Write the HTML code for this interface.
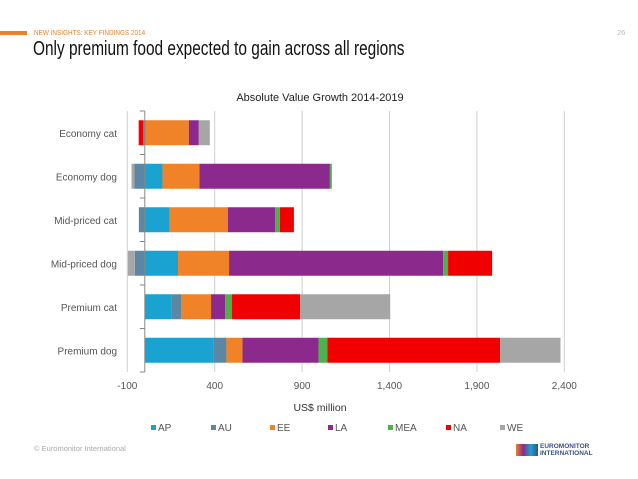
<!DOCTYPE html>
<html><head><meta charset="utf-8"><style>
body{margin:0;width:638px;height:479px;background:#fff;font-family:"Liberation Sans",Arial,sans-serif;overflow:hidden;position:relative}
.a{position:absolute;white-space:nowrap}
</style></head><body>
<div class="a" style="left:0;top:31px;width:27px;height:4px;background:#e8822e"></div>
<div class="a" style="left:34px;top:28px;font-size:7.5px;color:#e8822e;transform:scaleX(0.85);transform-origin:left">NEW INSIGHTS: KEY FINDINGS 2014</div>
<div class="a" style="left:617px;top:28px;font-size:7.5px;color:#bbb">26</div>
<div class="a" style="left:33px;top:38px;font-size:20px;color:#111;transform:scaleX(0.77);transform-origin:left">Only premium food expected to gain across all regions</div>
<svg class="a" style="left:0;top:0" width="638" height="479">
<text x="320" y="101" font-size="11" text-anchor="middle" fill="#222">Absolute Value Growth 2014-2019</text>
<g id="grid"></g><g id="bars"></g><g id="axis"></g>
<text x="320" y="411" font-size="10.5" text-anchor="middle" fill="#333">US$ million</text>
<g id="legend"></g>
</svg>
<div class="a" style="left:34px;top:444px;font-size:7.5px;color:#aaa">© Euromonitor International</div>
<div class="a" style="left:516px;top:444px;width:22px;height:12px;background:linear-gradient(90deg,#e8822e,#8b2a8c,#1aa3d0,#3a4f8c)"></div>
<div class="a" style="left:540px;top:443px;font-size:6.5px;line-height:7px;color:#3a4f8c;font-weight:bold">EUROMONITOR<br>INTERNATIONAL</div>
<script>
const categories=["Economy cat","Economy dog","Mid-priced cat","Mid-priced dog","Premium cat","Premium dog"];
const seriesNames=["AP","AU","EE","LA","MEA","NA","WE"];
const colors=["#1aa3d0","#5b87a5","#f08328","#8b2a8c","#4cb34c","#f00000","#a6a6a6"];
const AP=[6,101,143,190,155,391];
const AU=[-9,-59,-34,-57,52,76];
const EE=[246,212,332,292,172,92];
const LA=[57,746,270,1225,80,435];
const MEA=[0,11,28,28,40,51];
const NA=[-26,0,80,252,390,988];
const WE=[63,-17,0,-40,515,345];
const ticks=[-100,400,900,1400,1900,2400];
const tickLabels=["-100","400","900","1,400","1,900","2,400"];
const series=[AP,AU,EE,LA,MEA,NA,WE];
const NS="http://www.w3.org/2000/svg";
const x=v=>144.8+v*0.1748;
const top0=111,band=43.5;
const y=i=>top0+i*band;
function mk(t,a,p){const e=document.createElementNS(NS,t);for(const k in a)e.setAttribute(k,a[k]);p.appendChild(e);return e;}
const grid=document.getElementById('grid'),bars=document.getElementById('bars'),axis=document.getElementById('axis'),leg=document.getElementById('legend');
ticks.forEach((t,i)=>{
 const l=mk('line',{x1:x(t),x2:x(t),y1:top0,y2:top0+band*6,stroke:'#d0d0d0','stroke-width':1},grid);
 
 
 const tx=mk('text',{x:x(t),y:389,'font-size':10,'text-anchor':'middle',fill:'#555'},axis);
 tx.textContent=tickLabels[i];
 
 
});
categories.forEach((c,i)=>{
 let pos=0,neg=0;const cy=y(i)+band/2;
 series.forEach((s,k)=>{
  const v=s[i];if(!v)return;let x0,x1;
  if(v>0){x0=x(pos);pos+=v;x1=x(pos);}else{x1=x(neg);neg+=v;x0=x(neg);}
  const r=mk('rect',{x:x0,y:cy-12.5,width:x1-x0,height:25,fill:colors[k]},bars);
  
  
 });
 const tx=mk('text',{x:117,y:cy+4,'font-size':10,'text-anchor':'end',fill:'#555'},axis);
 tx.textContent=c;
 
 
});
const al=mk('line',{x1:x(0),x2:x(0),y1:top0,y2:top0+band*6,stroke:'#888','stroke-width':1},axis);


for(let i=0;i<=6;i++){const tk=mk('line',{x1:x(0)-5,x2:x(0),y1:y(i),y2:y(i),stroke:'#888'},axis);
 
 }
const lx=[151,211,270,328,388,446,500];
seriesNames.forEach((n,k)=>{
 const g=mk('g',{},leg);
 
 
 mk('rect',{x:lx[k],y:425,width:5,height:5,fill:colors[k]},g);
 const t=mk('text',{x:lx[k]+7,y:431,'font-size':10,fill:'#555'},g);t.textContent=n;
});
</script>
</body></html>
